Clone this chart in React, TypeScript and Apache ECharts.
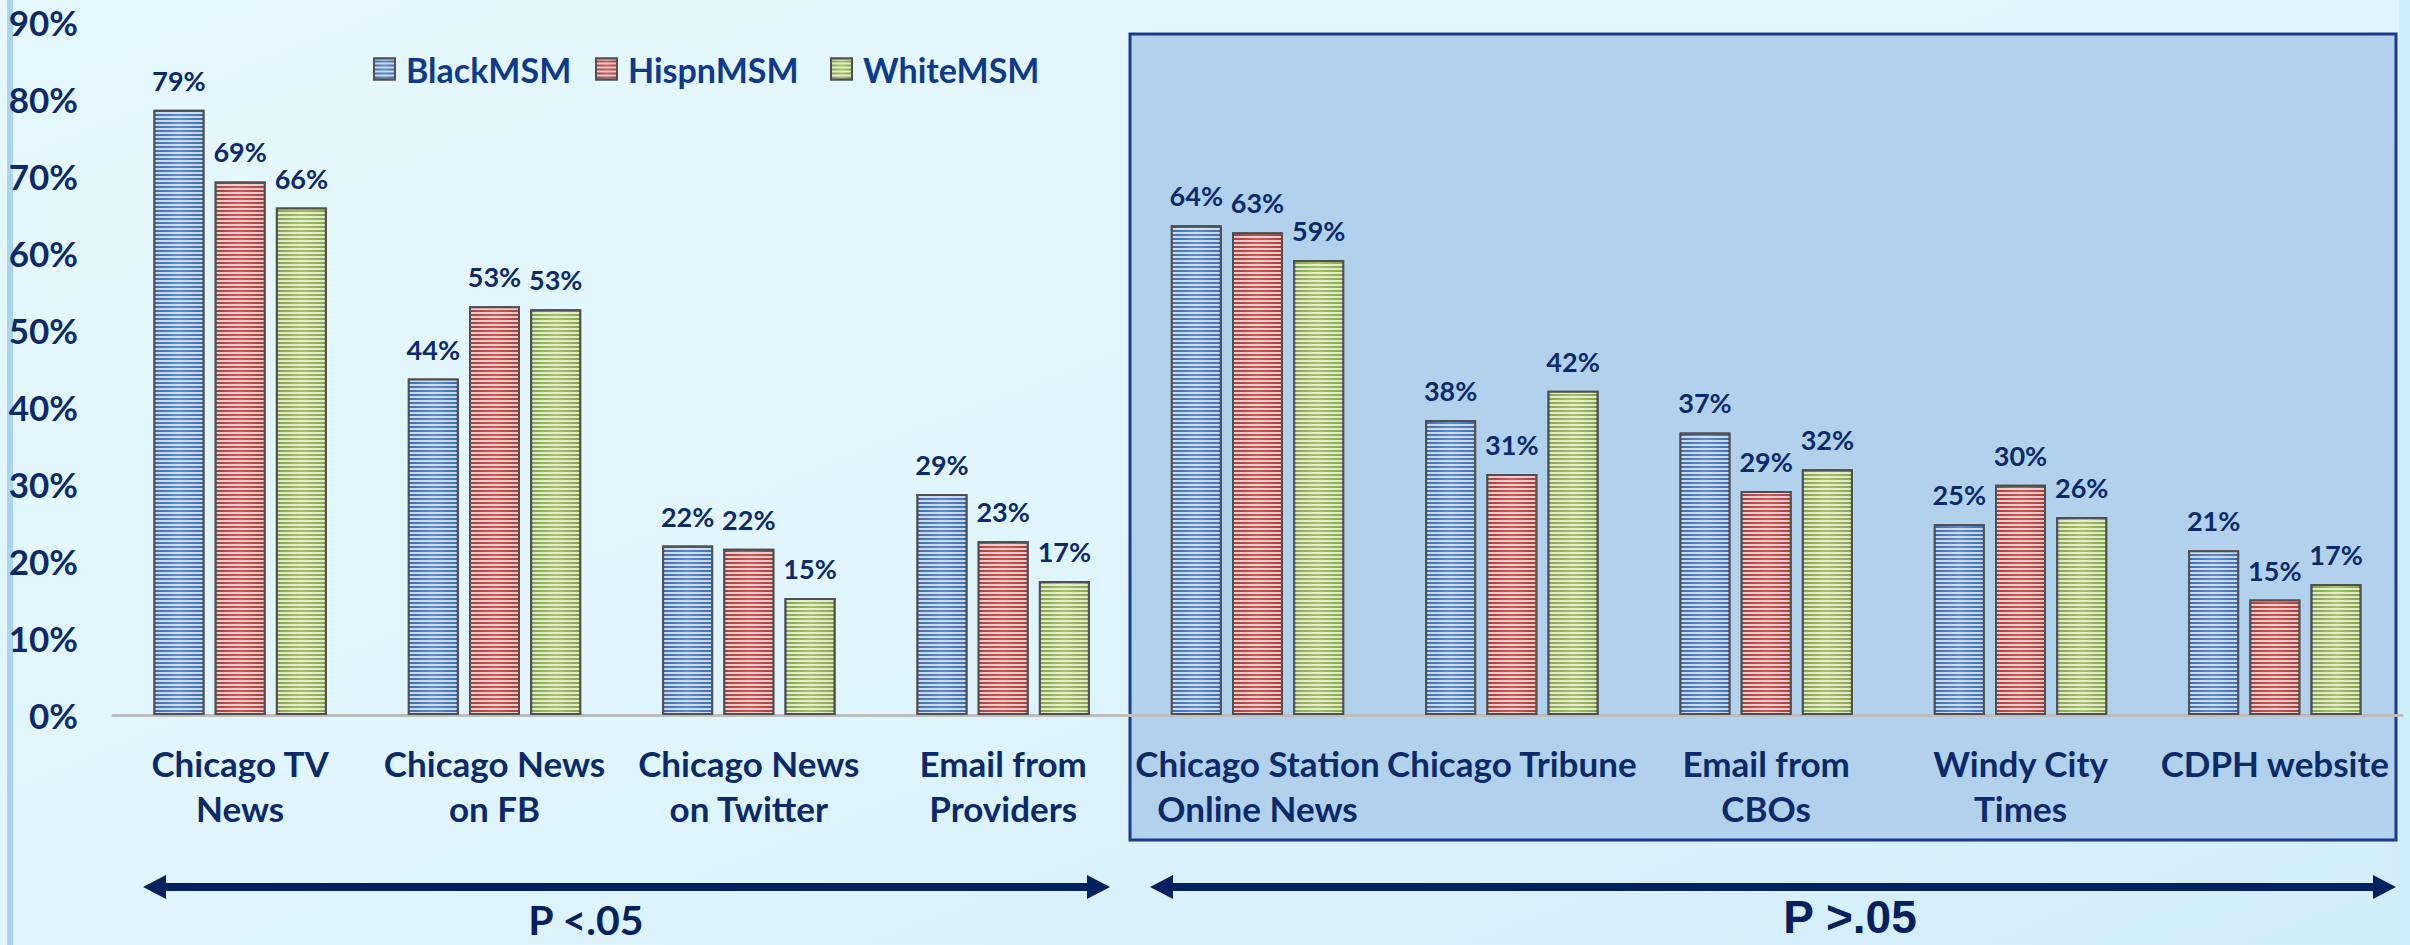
import React, { useEffect, useRef } from "react";
import * as echarts from "echarts";

const categories = [
  "Chicago TV\nNews",
  "Chicago News\non FB",
  "Chicago News\non Twitter",
  "Email from\nProviders",
  "Chicago Station\nOnline News",
  "Chicago Tribune",
  "Email from\nCBOs",
  "Windy City\nTimes",
  "CDPH website",
];
const blackMSM = [78.6, 43.7, 22.0, 28.7, 63.6, 38.3, 36.7, 24.8, 21.4];
const hispnMSM = [69.3, 53.1, 21.6, 22.6, 62.7, 31.3, 29.1, 29.9, 15.0];
const whiteMSM = [65.9, 52.7, 15.2, 17.4, 59.1, 42.1, 31.9, 25.7, 17.0];
const seriesNames = ["BlackMSM", "HispnMSM", "WhiteMSM"];
const pLeft = "P <.05";
const pRight = "P >.05";

const NAVY = "#0b2a6a";
const FONT = "Lato";

function grad(edge: string, mid: string) {
  return {
    type: "linear",
    x: 0,
    y: 0,
    x2: 1,
    y2: 0,
    colorStops: [
      { offset: 0, color: edge },
      { offset: 0.5, color: mid },
      { offset: 1, color: edge },
    ],
  };
}

const decal = {
  symbol: "rect",
  symbolSize: 1,
  dashArrayX: [1, 0],
  dashArrayY: [2, 2],
  rotation: 0,
  color: "rgba(255,255,255,0.72)",
};

export default function App() {
  const ref = useRef<HTMLDivElement>(null);
  useEffect(() => {
    if (!ref.current) return;
    const chart = echarts.init(ref.current, undefined, { renderer: "svg" });
    const fills = [
      grad("#3f6db0", "#5a8dd2"),
      grad("#a93f3d", "#cc5a57"),
      grad("#86a548", "#a6c463"),
    ];
    const datas = [blackMSM, hispnMSM, whiteMSM];
    const series = seriesNames.map((name, i) => ({
      name,
      type: "bar",
      data: datas[i],
      barWidth: 51,
      barGap: "20%",
      z: 3,
      itemStyle: {
        color: fills[i],
        borderColor: "#505050",
        borderWidth: 2,
        decal,
      },
      label: {
        show: true,
        position: "top",
        distance: 16,
        formatter: (p: any) => Math.round(p.value) + "%",
        color: NAVY,
        fontFamily: FONT,
        fontWeight: "bold",
        fontSize: 27,
      },
    }));
    const legendLefts = [373, 595, 830];
    const legends = seriesNames.map((n, i) => ({
      show: true,
      left: legendLefts[i],
      top: 52,
      padding: 0,
      data: [n],
      icon: "rect",
      itemWidth: 21,
      itemHeight: 21,
      textStyle: {
        color: "#0d3a8c",
        fontFamily: FONT,
        fontWeight: "bold",
        fontSize: 34,
        padding: [0, 0, 0, 6],
      },
    }));
    const arrowY = 887;
    const head = 23;
    const halfH = 12;
    const arrow = (x1: number, x2: number) => [
      {
        type: "line",
        shape: { x1: x1 + head - 2, y1: arrowY, x2: x2 - head + 2, y2: arrowY },
        style: { stroke: "#04215f", lineWidth: 8 },
      },
      {
        type: "polygon",
        shape: { points: [[x1, arrowY], [x1 + head, arrowY - halfH], [x1 + head, arrowY + halfH]] },
        style: { fill: "#04215f" },
      },
      {
        type: "polygon",
        shape: { points: [[x2, arrowY], [x2 - head, arrowY - halfH], [x2 - head, arrowY + halfH]] },
        style: { fill: "#04215f" },
      },
    ];
    chart.setOption({
      animation: false,
      backgroundColor: {
        type: "linear",
        x: 0,
        y: 0,
        x2: 1,
        y2: 1,
        colorStops: [
          { offset: 0, color: "#e6f8fe" },
          { offset: 0.5, color: "#e0f5fd" },
          { offset: 1, color: "#d2eefa" },
        ],
      },
      grid: { left: 113, right: 8, top: 22, bottom: 230, containLabel: false },
      legend: legends,
      xAxis: {
        type: "category",
        data: categories,
        axisLine: { show: true, lineStyle: { color: "#bdbdbd", width: 3 } },
        axisTick: { show: false },
        axisLabel: {
          interval: 0,
          margin: 25,
          color: NAVY,
          fontFamily: FONT,
          fontWeight: "bold",
          fontSize: 35,
          lineHeight: 45,
        },
      },
      yAxis: {
        type: "value",
        min: 0,
        max: 90,
        interval: 10,
        axisLine: { show: false },
        axisTick: { show: false },
        splitLine: { show: false },
        axisLabel: {
          formatter: "{value}%",
          margin: 35,
          color: NAVY,
          fontFamily: FONT,
          fontWeight: "bold",
          fontSize: 35,
        },
      },
      series,
      graphic: [
        {
          type: "rect",
          z: -10,
          silent: true,
          shape: { x: 7, y: 0, width: 6, height: 945 },
          style: { fill: "#a9d5ef" },
        },
        {
          type: "rect",
          z: -10,
          silent: true,
          shape: { x: 2399, y: 0, width: 11, height: 945 },
          style: { fill: "#cdeefb" },
        },
        {
          type: "rect",
          z: -9,
          silent: true,
          shape: { x: 1130, y: 34, width: 1266, height: 806 },
          style: { fill: "#b1d1ec", stroke: "#1b3a8f", lineWidth: 3 },
        },
        ...arrow(143, 1110),
        ...arrow(1150, 2396),
        {
          type: "text",
          x: 586,
          y: 919,
          style: {
            text: pLeft,
            fill: "#04215f",
            font: `bold 41px ${FONT}`,
            textAlign: "center",
            textVerticalAlign: "middle",
          },
        },
        {
          type: "text",
          x: 1850,
          y: 917,
          style: {
            text: pRight,
            fill: "#04215f",
            font: "bold 46px 'Liberation Sans'",
            textAlign: "center",
            textVerticalAlign: "middle",
          },
        },
      ],
    });
    return () => chart.dispose();
  }, []);
  return (
    <div
      ref={ref}
      style={{ position: "fixed", left: 0, top: 0, width: 2410, height: 945 }}
    />
  );
}
